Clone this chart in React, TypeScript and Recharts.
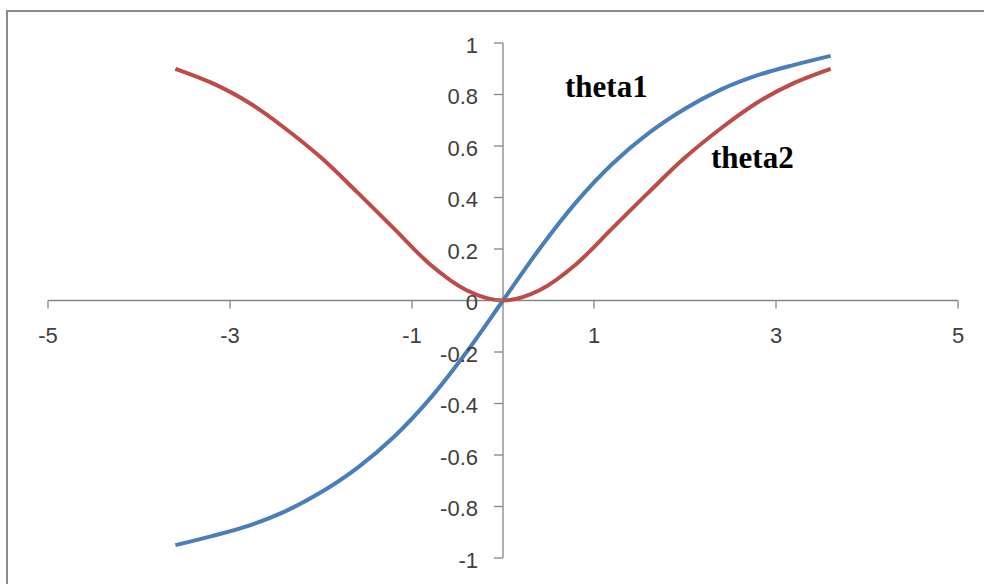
import { LineChart, Line, XAxis, YAxis, ReferenceLine } from 'recharts';

const X_VALUES = [-3.6, -3.2, -2.8, -2.4, -2.0, -1.6, -1.2, -0.8, -0.4, 0, 0.4, 0.8, 1.2, 1.6, 2.0, 2.4, 2.8, 3.2, 3.6];
const THETA1 = [-0.95, -0.915, -0.875, -0.82, -0.745, -0.65, -0.53, -0.38, -0.2, 0, 0.2, 0.38, 0.53, 0.65, 0.745, 0.82, 0.875, 0.915, 0.95];
const THETA2 = [0.9, 0.845, 0.77, 0.67, 0.555, 0.42, 0.28, 0.14, 0.04, 0, 0.04, 0.14, 0.28, 0.42, 0.555, 0.67, 0.77, 0.845, 0.9];

const X_TICKS = [-5, -3, -1, 1, 3, 5];
const Y_TICKS = [-1, -0.8, -0.6, -0.4, -0.2, 0, 0.2, 0.4, 0.6, 0.8, 1];

const W = 984;
const H = 584;
// plot area: left 48, top 43, right 958, bottom 558 (axes take 1px each)
const MARGIN = { top: 43, right: 26, bottom: 25, left: 47 };
const ZERO_X = 48 + (W - 48 - 26) / 2;
const ZERO_Y = 43 + (H - 43 - 26) / 2;

const AXIS = '#868686';
const LABEL = { fontFamily: '"Liberation Sans", Arial, sans-serif', fontSize: 22, fill: '#404040' };

const data = X_VALUES.map((x, i) => ({ x, theta1: THETA1[i], theta2: THETA2[i] }));

const fmt = (v: number) => String(Math.round(v * 10) / 10);

const XTick = (props: any) => {
  const { x, payload } = props;
  return (
    <g>
      <line x1={x} x2={x} y1={ZERO_Y} y2={ZERO_Y + 8} stroke={AXIS} strokeWidth={1.3} />
      <text x={x} y={ZERO_Y + 35} textAnchor="middle" dominantBaseline="central" {...LABEL}>
        {fmt(payload.value)}
      </text>
    </g>
  );
};

const YTick = (props: any) => {
  const { y, payload } = props;
  return (
    <g>
      <line x1={ZERO_X - 9} x2={ZERO_X} y1={y} y2={y} stroke={AXIS} strokeWidth={1.3} />
      <text x={ZERO_X - 25} y={y + 2} textAnchor="end" dominantBaseline="central" {...LABEL}>
        {fmt(payload.value)}
      </text>
    </g>
  );
};

const App = () => {
  return (
    <div style={{ position: 'absolute', left: 0, top: 0, width: W, height: H, overflow: 'hidden', background: '#fff' }}>
      <div
        style={{
          position: 'absolute',
          left: 6,
          top: 10,
          width: W + 20,
          height: H + 20,
          border: '2px solid #8a8a8a',
        }}
      />
      <LineChart width={W} height={H} data={data} margin={MARGIN}>
        <XAxis
          dataKey="x"
          type="number"
          domain={[-5, 5]}
          ticks={X_TICKS}
          height={1}
          axisLine={false}
          tickLine={false}
          tick={XTick}
          interval={0}
        />
        <YAxis
          type="number"
          domain={[-1, 1]}
          ticks={Y_TICKS}
          width={1}
          axisLine={false}
          tickLine={false}
          tick={YTick}
          interval={0}
        />
        <ReferenceLine y={0} stroke={AXIS} strokeWidth={1.3} />
        <ReferenceLine x={0} stroke={AXIS} strokeWidth={1.3} />
        <Line
          dataKey="theta1"
          type="monotone"
          stroke="#4A7EBB"
          strokeWidth={4}
          dot={false}
          isAnimationActive={false}
        />
        <Line
          dataKey="theta2"
          type="monotone"
          stroke="#BE4B48"
          strokeWidth={4}
          dot={false}
          isAnimationActive={false}
        />
      </LineChart>
      <svg width={W} height={H} style={{ position: 'absolute', left: 0, top: 0, pointerEvents: 'none' }}>
        <text x={565} y={97} fontFamily='"Liberation Serif", "Times New Roman", serif' fontWeight="bold" fontSize={31} fill="#000">
          theta1
        </text>
        <text x={711} y={168} fontFamily='"Liberation Serif", "Times New Roman", serif' fontWeight="bold" fontSize={31} fill="#000">
          theta2
        </text>
      </svg>
    </div>
  );
};

export default App;
